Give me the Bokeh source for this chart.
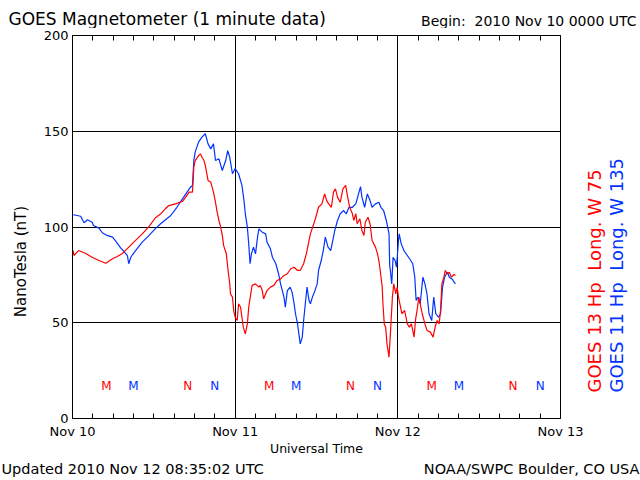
import math
from bokeh.plotting import figure
from bokeh.models import Range1d, FixedTicker, LinearAxis
from bokeh.layouts import column, row
from bokeh.core.properties import value
from bokeh.embed import file_html
from bokeh.resources import INLINE

# ---------------- data (hours since 2010 Nov 10 00:00 UTC, nT) ----------------
g13_hours = [0.1, 0.2, 0.9, 1.9, 2.9, 3.9, 4.9, 5.9, 6.6, 7.3, 8.3, 9.3, 10.3, 11.3, 12.2, 12.9,
             13.7, 14.2, 15.2, 16.2, 16.7, 17.2, 17.7, 17.9, 18.1, 18.6, 18.9, 19.1, 19.4, 19.6,
             20.0, 20.4, 20.8, 21.1, 21.3, 21.6, 21.8, 22.1, 22.3, 22.7, 22.9, 23.2, 23.3, 23.6,
             23.8, 24.0, 24.3, 24.5, 24.8, 25.2, 25.5, 25.8, 26.0, 26.3, 26.5, 27.0, 27.5, 27.7,
             28.0, 28.2, 28.7, 29.2, 29.7, 30.2, 30.7, 31.2, 31.7, 32.2, 32.7, 33.2, 33.6, 34.1,
             34.5, 34.9, 35.1, 35.6, 35.9, 36.3, 36.8, 37.2, 37.5, 37.8, 38.2, 38.5, 38.8, 39.1,
             39.5, 39.9, 40.3, 40.6, 40.9, 41.3, 41.5, 41.8, 42.0, 42.4, 42.7, 43.0, 43.2, 43.6,
             43.9, 44.2, 44.7, 45.0, 45.2, 45.4, 45.7, 45.8, 46.0, 46.2, 46.4, 46.7, 46.9, 47.2,
             47.4, 47.7, 47.9, 48.1, 48.4, 48.6, 49.0, 49.4, 49.7, 50.0, 50.4, 50.6, 50.9, 51.1,
             51.3, 51.6, 52.0, 52.3, 52.8, 53.2, 53.5, 53.8, 54.1, 54.3, 54.5, 54.8, 55.0, 55.3,
             55.6, 55.9, 56.3, 56.5]
g13_nt = [87.7, 85.1, 87.7, 86.3, 84.2, 82.5, 81.1, 83.4, 84.6, 86.0, 89.5, 93.0, 96.4, 100.3,
          104.7, 106.5, 109.5, 111.2, 112.1, 113.3, 115.6, 118.2, 118.2, 131.2, 134.7, 137.3,
          138.2, 136.4, 134.7, 132.1, 124.3, 123.4, 118.2, 112.9, 108.6, 103.4, 100.8, 95.6,
          90.3, 86.0, 79.0, 70.3, 65.1, 63.4, 56.0, 52.9, 51.2, 59.9, 58.1, 47.7, 44.2, 49.4,
          58.1, 65.1, 69.5, 70.3, 68.6, 69.5, 66.8, 62.5, 66.8, 68.6, 69.5, 72.1, 72.9, 74.7,
          75.6, 78.2, 79.0, 77.3, 77.3, 80.8, 86.0, 93.0, 96.4, 101.7, 105.1, 110.3, 112.1,
          117.3, 113.8, 112.1, 110.3, 118.2, 119.9, 115.6, 112.9, 119.9, 121.7, 115.6, 110.3,
          106.9, 103.4, 106.9, 101.7, 104.3, 98.2, 95.6, 102.5, 105.1, 101.7, 93.0, 89.5, 86.0,
          82.5, 77.3, 68.6, 59.9, 49.4, 47.7, 39.0, 32.0, 44.2, 63.4, 70.3, 65.1, 68.6, 63.4,
          58.1, 54.7, 56.4, 49.4, 47.7, 49.4, 42.5, 51.2, 58.1, 63.4, 59.9, 54.7, 49.4, 46.0,
          45.1, 42.5, 47.7, 51.2, 49.4, 56.4, 70.3, 73.8, 77.3, 75.6, 76.4, 73.8, 75.2, 74.7]

g11_hours = [0.1, 1.2, 1.7, 2.2, 2.9, 3.1, 3.9, 4.4, 5.1, 5.9, 6.3, 7.1, 7.6, 8.1, 8.3, 8.6,
             9.3, 10.3, 11.3, 11.5, 12.2, 13.0, 14.5, 15.4, 16.4, 17.4, 17.7, 17.9, 18.1, 18.6,
             19.1, 19.6, 20.0, 20.4, 20.8, 21.1, 21.6, 22.1, 22.6, 22.9, 23.2, 23.6, 24.0, 24.5,
             25.0, 25.3, 25.5, 25.8, 26.0, 26.2, 26.4, 26.7, 27.0, 27.3, 27.5, 28.0, 28.5, 28.7,
             29.2, 29.5, 30.0, 30.4, 30.7, 31.2, 31.4, 31.7, 32.1, 32.4, 32.7, 32.9, 33.2, 33.4,
             33.6, 33.9, 34.1, 34.4, 34.6, 34.9, 35.1, 35.4, 35.6, 36.1, 36.3, 36.7, 37.0, 37.3,
             37.7, 38.1, 38.3, 38.7, 39.1, 39.5, 40.0, 40.4, 40.8, 41.3, 41.8, 42.2, 42.5, 42.7,
             43.1, 43.5, 43.9, 44.2, 44.7, 45.2, 45.5, 45.9, 46.3, 46.7, 46.8, 46.9, 47.1, 47.3,
             47.6, 47.8, 48.1, 48.2, 48.5, 48.9, 49.4, 49.9, 50.2, 50.5, 50.7, 51.0, 51.3, 51.7,
             52.0, 52.3, 52.6, 53.0, 53.3, 53.6, 54.0, 54.3, 54.6, 54.9, 55.3, 55.6, 56.0, 56.3,
             56.5]
g11_nt = [106.4, 105.6, 102.2, 103.8, 102.5, 100.8, 99.4, 97.0, 95.6, 94.7, 93.0, 89.1, 87.2,
          85.1, 80.8, 84.2, 87.7, 92.1, 95.6, 96.4, 99.0, 101.7, 106.0, 110.3, 115.6, 120.8,
          121.7, 134.7, 139.1, 144.3, 146.9, 148.7, 143.4, 140.8, 143.4, 134.7, 135.6, 129.5,
          134.7, 139.9, 136.4, 127.8, 130.5, 127.8, 121.7, 113.8, 106.9, 99.9, 91.2, 80.8, 86.0,
          89.5, 86.0, 94.7, 99.0, 97.3, 96.4, 92.1, 88.6, 84.2, 80.8, 75.6, 70.3, 63.4, 58.1,
          66.8, 68.6, 66.0, 59.9, 54.7, 49.4, 44.2, 39.0, 42.5, 51.2, 61.6, 68.6, 61.6, 59.9,
          63.4, 65.1, 70.3, 77.3, 82.5, 87.7, 94.7, 89.5, 87.7, 91.2, 98.2, 103.4, 106.9, 108.6,
          106.9, 110.3, 110.3, 112.1, 117.3, 121.1, 115.6, 110.3, 117.3, 113.8, 110.3, 112.1,
          112.9, 110.3, 108.6, 103.4, 96.4, 80.0, 77.3, 70.3, 84.2, 82.5, 79.0, 93.0, 96.4,
          91.2, 87.7, 85.1, 82.5, 80.8, 73.8, 61.6, 63.4, 59.9, 73.8, 70.3, 65.1, 54.7, 51.2,
          63.4, 54.7, 52.9, 54.7, 68.6, 73.8, 76.4, 73.8, 72.9, 71.2, 70.3]

# local midnight / noon markers (hours since start)
g13_mn_hours = [5, 17, 29, 41, 53, 65]
g13_mn_text = ["M", "N", "M", "N", "M", "N"]
g11_mn_hours = [9, 21, 33, 45, 57, 69]
g11_mn_text = ["M", "N", "M", "N", "M", "N"]
mn_level = [17] * 6

day_ticks = [0, 24, 48, 72]
day_labels = ["Nov 10", "Nov 11", "Nov 12", "Nov 13"]
three_hour_ticks = list(range(0, 73, 3))
nt_ticks = [0, 50, 100, 150, 200]

NBSP = "\u00a0"
title_text = "GOES Magnetometer (1 minute data)"
begin_text = "Begin:" + NBSP + " 2010 Nov 10 0000 UTC"
updated_text = "Updated 2010 Nov 12 08:35:02 UTC"
credit_text = "NOAA/SWPC Boulder, CO USA"
x_title = "Universal Time"
y_title = "NanoTesla (nT)"
g13_label = "GOES 13 Hp" + NBSP + " Long. W 75"
g11_label = "GOES 11 Hp" + NBSP + " Long. W 135"

RED = "#ff0000"
BLUE = "#0033ff"
FONT = "DejaVu Sans"

# ---------------- page geometry ----------------
PW, PH = 640, 480
FL, FR, FT, FB = 72, 560, 35, 418   # frame edges on the page
TOP_H = 28
BORDER_T = FT - TOP_H
BORDER_B = 42
MID_H = BORDER_T + (FB - FT) + BORDER_B
BOT_H = PH - TOP_H - MID_H
LEFT_W = 36
RIGHT_X0 = 583
RIGHT_W = PW - RIGHT_X0
MAIN_W = RIGHT_X0 - LEFT_W


def strip(x0, x1, y0, y1, bt=0, bb=0):
    """Text-only panel; its data coordinates are page pixels (y negated)."""
    f = figure(width=x1 - x0, height=(y1 - y0) + bt + bb,
               x_range=Range1d(x0, x1), y_range=Range1d(-y1, -y0),
               output_backend="svg", toolbar_location=None,
               min_border=0, min_border_left=0, min_border_right=0,
               min_border_top=bt, min_border_bottom=bb,
               x_axis_location=None, y_axis_location=None)
    f.outline_line_color = None
    for g in f.grid:
        g.visible = False
    f.background_fill_color = "white"
    f.border_fill_color = "white"
    return f


def txt(f, s, x, y, size, align="left", color="black", angle=0.0):
    f.text(x=[x], y=[-y], text=[s], text_font=value(FONT), text_font_size=size,
           text_align=align, text_baseline="middle", text_color=color, angle=angle)


# ---------------- main plot ----------------
p = figure(width=MAIN_W, height=MID_H, output_backend="svg", toolbar_location=None,
           x_range=Range1d(0, 72), y_range=Range1d(0, 200),
           min_border_left=FL - LEFT_W, min_border_right=RIGHT_X0 - FR,
           min_border_top=BORDER_T, min_border_bottom=BORDER_B,
           x_axis_location=None, y_axis_location=None)
p.outline_line_color = "black"
p.outline_line_alpha = 1.0
p.background_fill_color = "white"
p.border_fill_color = "white"

xb = LinearAxis(ticker=FixedTicker(ticks=day_ticks, minor_ticks=three_hour_ticks))
xb.major_label_overrides = {t: l for t, l in zip(day_ticks, day_labels)}
xb.major_tick_in = 5; xb.major_tick_out = 0
xb.minor_tick_in = 5; xb.minor_tick_out = 0
xb.major_label_standoff = 5
xb.major_label_text_font = FONT
xb.major_label_text_font_size = "13px"
xb.major_label_text_color = "black"
xb.axis_line_color = "black"
xb.axis_label = x_title
xb.axis_label_text_font = FONT
xb.axis_label_text_font_size = "12.5px"
xb.axis_label_text_font_style = "normal"
xb.axis_label_text_color = "black"
xb.axis_label_standoff = -1
p.add_layout(xb, "below")

xt = LinearAxis(ticker=FixedTicker(ticks=[], minor_ticks=three_hour_ticks))
xt.minor_tick_in = 5; xt.minor_tick_out = 0
xt.major_tick_in = 0; xt.major_tick_out = 0
xt.axis_line_color = "black"
p.add_layout(xt, "above")

yl = LinearAxis(ticker=FixedTicker(ticks=nt_ticks))
yl.major_tick_in = 0; yl.major_tick_out = 0
yl.minor_tick_in = 0; yl.minor_tick_out = 0
yl.major_label_standoff = 4
yl.major_label_text_font = FONT
yl.major_label_text_font_size = "13px"
yl.major_label_text_color = "black"
yl.axis_line_color = "black"
p.add_layout(yl, "left")

p.xgrid.ticker = FixedTicker(ticks=day_ticks)
p.ygrid.ticker = FixedTicker(ticks=nt_ticks)
for g in (p.xgrid, p.ygrid):
    g.grid_line_color = "black"
    g.grid_line_width = 1
    g.grid_line_alpha = 1.0

p.line(g11_hours, g11_nt, line_color=BLUE, line_width=1.2)
p.line(g13_hours, g13_nt, line_color=RED, line_width=1.2)

p.text(x=g13_mn_hours, y=mn_level, text=g13_mn_text, text_color=RED,
       text_font=value(FONT), text_font_size="12px", text_align="center", text_baseline="middle")
p.text(x=g11_mn_hours, y=mn_level, text=g11_mn_text, text_color=BLUE,
       text_font=value(FONT), text_font_size="12px", text_align="center", text_baseline="middle")

# ---------------- text panels (page-pixel coordinates) ----------------
top = strip(0, PW, 0, TOP_H)
txt(top, title_text, 8, 18, "17px")
txt(top, begin_text, 636, 20, "14px", align="right")

bottom = strip(0, PW, PH - BOT_H, PH)
txt(bottom, updated_text, 1, 468, "14.5px")
txt(bottom, credit_text, 639, 468, "14.5px", align="right")

left = strip(0, LEFT_W, FT, FB, bt=BORDER_T, bb=BORDER_B)
txt(left, y_title, 20, 261, "15px", align="center", angle=math.pi / 2)

right = strip(RIGHT_X0, PW, FT, FB, bt=BORDER_T, bb=BORDER_B)
txt(right, g13_label, 594, 392, "18px", color=RED, angle=math.pi / 2)
txt(right, g11_label, 615.5, 392, "18px", color=BLUE, angle=math.pi / 2)

layout = column(top, row(left, p, right), bottom)
open("out.html", "w").write(file_html(layout, INLINE))
